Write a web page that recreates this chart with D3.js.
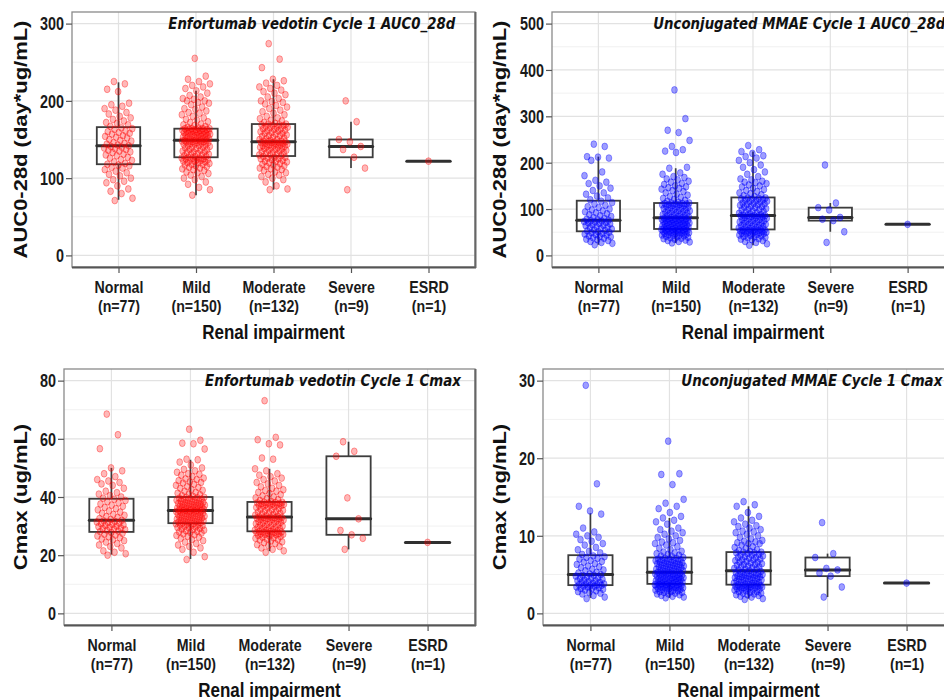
<!DOCTYPE html>
<html><head><meta charset="utf-8">
<script src="https://cdn.jsdelivr.net/npm/d3@7"></script>
<style>body{margin:0;background:#fff}svg{display:block;background:#fff}</style>
</head><body><svg id="c" width="944" height="700"></svg>
<script>
const categories = ["Normal", "Mild", "Moderate", "Severe", "ESRD"];
const nLabels = ["(n=77)", "(n=150)", "(n=132)", "(n=9)", "(n=1)"];
const xTitle = "Renal impairment";
const panelTitles = ["Enfortumab vedotin Cycle 1 AUC0_28d", "Unconjugated MMAE Cycle 1 AUC0_28d",
  "Enfortumab vedotin Cycle 1 Cmax", "Unconjugated MMAE Cycle 1 Cmax"];
const yTitles = ["AUC0-28d (day*ug/mL)", "AUC0-28d (day*ng/mL)", "Cmax (ug/mL)", "Cmax (ng/mL)"];

const ticksEvAuc = [0, 100, 200, 300], minorEvAuc = [50, 150, 250];
const ticksMmAuc = [0, 100, 200, 300, 400, 500], minorMmAuc = [50, 150, 250, 350, 450];
const ticksEvCmax = [0, 20, 40, 60, 80], minorEvCmax = [10, 30, 50, 70];
const ticksMmCmax = [0, 10, 20, 30], minorMmCmax = [5, 15, 25];

// ---- Enfortumab vedotin AUC0-28d ----
const evAucNormal = [71,74,80,83,86,90,94,96,98,100,103,105,107,109,111,113,114,116,117,
 118,119,121,123,124,126,127,129,130,131,133,134,135,136,137,138,139,140,141,142,
 143,144,145,146,148,149,150,152,153,154,155,157,158,159,160,161,163,164,165,
 167,169,171,172,174,176,178,180,183,185,188,190,193,195,197,212,215,222,225];
const evAucMild = [78,85,88,92,95,98,100,102,104,106,107,108,110,111,112,113,114,115,116,117,
 118,118,119,120,120,121,122,122,123,123,124,124,125,125,126,126,126,
 127,128,128,129,130,131,131,132,133,134,134,135,136,137,137,138,139,140,140,141,
 142,142,143,144,144,145,145,146,146,147,147,147,148,148,148,149,149,149,
 150,150,151,151,152,152,153,153,154,154,155,155,155,156,156,157,157,158,158,159,
 159,159,160,160,160,161,161,162,162,162,163,163,163,164,164,164,164,
 165,166,167,168,169,170,172,173,175,176,178,180,182,184,185,187,189,190,192,195,
 197,198,200,200,202,203,205,207,210,213,216,218,220,222,225,228,232,255];
const evAucModerate = [85,86,90,95,98,100,102,104,105,107,108,110,111,112,113,114,115,116,117,118,
 119,120,121,122,122,123,124,125,125,126,127,127,128,
 129,130,130,131,132,133,133,134,135,136,136,137,138,138,139,140,140,141,141,142,
 142,143,143,144,144,145,145,146,146,146,147,147,147,
 148,148,149,150,150,151,152,153,154,155,155,156,157,158,158,159,160,161,161,162,
 163,164,164,165,166,166,167,168,168,169,169,170,170,
 171,172,174,175,177,178,180,182,184,186,188,190,192,194,196,198,199,200,203,205,208,
 210,212,214,216,218,220,223,226,228,243,254,274];
const evAucSevere = [85,113,127,137,141,147,150,173,200];
const evAucEsrd = [122];
const evAucBox = [[118,142,166,72,224],[127,149,164,78,213],[128.6,147,170,85,228],[127,141,150,113,173],[122,122,122,122,122]];

// ---- Unconjugated MMAE AUC0-28d ----
const mmAucNormal = [23,26,28,30,32,34,35,37,38,40,41,42,44,45,46,47,49,50,51,
 53,54,55,57,58,60,61,62,64,65,66,68,69,70,71,72,73,74,75,76,
 77,78,80,82,84,86,88,90,92,94,96,98,100,103,105,108,111,114,117,
 120,124,128,132,135,140,145,150,155,158,162,172,180,205,210,212,213,235,240];
const mmAucMild = [27,29,30,32,33,35,36,37,38,39,40,41,42,43,44,44,45,46,47,47,
 48,49,49,50,51,51,52,52,53,53,54,54,55,55,56,56,56,
 57,58,58,59,60,60,61,62,62,63,64,64,65,66,66,67,68,68,69,70,
 70,71,72,72,73,74,74,75,76,76,77,77,78,78,79,79,80,80,
 81,82,83,84,85,86,87,88,89,90,91,92,93,94,95,96,97,98,99,100,
 101,102,103,104,105,106,107,108,109,110,110,111,111,112,112,113,113,
 115,117,119,121,123,125,127,130,132,135,138,140,143,145,146,148,150,153,155,158,160,163,
 165,168,170,175,178,188,190,222,225,228,235,248,265,270,295,357];
const mmAucModerate = [22,25,28,30,32,34,35,36,38,39,40,41,42,43,44,45,46,47,48,48,
 49,50,50,51,52,52,53,53,54,54,55,55,55,
 57,58,59,60,61,62,63,64,65,66,67,68,69,70,71,72,73,74,75,76,
 77,78,79,80,81,82,83,84,85,85,86,86,86,
 87,88,90,91,92,94,95,96,98,99,100,101,103,104,105,106,108,109,110,111,
 112,113,115,116,117,118,119,120,121,122,123,124,124,
 127,129,131,133,135,138,140,142,145,148,150,152,155,157,158,160,163,165,170,175,180,
 185,190,195,200,205,210,213,215,220,224,228,237];
const mmAucSevere = [28,51,75,78,82,98,103,113,195];
const mmAucEsrd = [67];
const mmAucBox = [[52,76,118,23,213],[57,81,113,27,188],[56,86,125,22,224],[75,82,103,51,113],[67,67,67,67,67]];

// ---- Enfortumab vedotin Cmax ----
const evCmaxNormal = [20.0,20.5,21.0,21.5,22.5,23.0,23.5,24.0,24.5,25.0,25.3,25.6,26.0,26.3,26.6,26.9,27.2,27.5,27.8,
 28.1,28.3,28.6,28.8,29.0,29.2,29.4,29.6,29.8,30.0,30.2,30.4,30.6,30.8,31.0,31.2,31.4,31.6,31.8,32.0,
 32.3,32.6,33.0,33.3,33.7,34.0,34.4,34.8,35.2,35.6,36.0,36.4,36.8,37.2,37.6,38.0,38.4,38.8,39.2,
 39.6,40.0,40.5,41.0,41.5,42.0,43.0,44.0,44.5,45.0,45.5,46.0,47.0,48.0,49.0,50.0,56.6,61.4,68.5];
const evCmaxMild = [18.5,19.5,21.0,22.0,22.5,23.0,23.5,24.0,24.5,25.0,25.4,25.8,26.2,26.5,26.8,27.0,27.3,27.6,27.8,28.0,
 28.2,28.4,28.6,28.8,29.0,29.2,29.4,29.5,29.7,29.9,30.1,30.2,30.4,30.5,30.7,30.8,30.9,
 31.1,31.2,31.3,31.4,31.5,31.6,31.8,31.9,32.0,32.1,32.3,32.4,32.5,32.6,32.8,32.9,33.0,33.2,33.3,33.4,
 33.5,33.7,33.8,33.9,34.0,34.2,34.3,34.4,34.5,34.7,34.8,34.9,35.0,35.1,35.2,35.3,35.3,35.4,
 35.5,35.6,35.7,35.8,35.9,36.0,36.1,36.2,36.4,36.5,36.6,36.7,36.8,37.0,37.1,37.2,37.3,37.5,37.6,37.7,
 37.8,38.0,38.1,38.2,38.4,38.5,38.6,38.8,38.9,39.0,39.2,39.3,39.4,39.6,39.7,39.8,39.9,
 40.2,40.5,40.8,41.0,41.3,41.6,42.0,42.3,42.6,43.0,43.3,43.6,44.0,44.4,44.8,45.0,45.2,45.6,46.0,46.2,
 46.5,47.0,47.5,47.8,48.0,48.5,49.0,49.5,50.0,51.0,52.0,52.8,53.0,56.5,58.3,58.5,59.5,63.3];
const evCmaxModerate = [21.0,21.5,22.0,22.5,23.0,23.3,23.6,24.0,24.3,24.6,24.9,25.2,25.4,25.6,25.8,26.0,26.2,26.4,26.6,26.8,
 27.0,27.1,27.2,27.3,27.4,27.5,27.6,27.7,27.8,27.9,28.0,28.1,28.1,
 28.3,28.5,28.6,28.8,29.0,29.1,29.3,29.5,29.6,29.8,30.0,30.1,30.3,30.5,30.6,30.8,31.0,31.1,31.3,31.5,
 31.6,31.8,32.0,32.1,32.3,32.4,32.5,32.6,32.7,32.8,32.9,33.0,33.1,
 33.2,33.4,33.6,33.8,34.0,34.2,34.4,34.6,34.8,35.0,35.2,35.4,35.6,35.8,36.0,36.2,36.4,36.6,36.8,37.0,
 37.1,37.2,37.3,37.4,37.5,37.6,37.7,37.8,37.9,38.0,38.1,38.2,38.2,
 38.5,38.8,39.1,39.4,39.7,40.0,40.4,40.8,41.2,41.6,42.0,42.2,42.5,43.0,43.5,44.0,44.5,45.0,45.5,46.0,
 46.5,47.0,47.5,48.0,49.0,49.7,53.0,53.4,57.9,58.3,59.7,60.5,73.1];
const evCmaxSevere = [22,25.8,27,28.5,32.5,39.7,54,55.7,59];
const evCmaxEsrd = [24.4];
const evCmaxBox = [[28,32,39.4,20.2,50],[31,35.4,40,18.7,52.8],[28.2,33.1,38.3,21.4,49.7],[27,32.5,54,22,59],[24.4,24.4,24.4,24.4,24.4]];

// ---- Unconjugated MMAE Cmax ----
const mmCmaxNormal = [1.9,2.1,2.3,2.5,2.6,2.7,2.8,2.9,3.0,3.1,3.2,3.2,3.3,3.4,3.4,3.5,3.5,3.6,3.6,
 3.7,3.7,3.8,3.8,3.9,4.0,4.0,4.1,4.2,4.2,4.3,4.4,4.5,4.5,4.6,4.7,4.8,4.9,4.9,5.0,
 5.1,5.2,5.3,5.5,5.6,5.7,5.9,6.0,6.1,6.3,6.4,6.6,6.7,6.8,7.0,7.1,7.2,7.3,7.4,
 7.6,7.8,8.0,8.2,8.5,8.8,9.0,9.3,9.5,9.8,10.0,10.2,10.5,11.0,12.8,13.2,13.8,16.7,29.4];
const mmCmaxMild = [2.0,2.1,2.2,2.3,2.4,2.5,2.5,2.6,2.7,2.7,2.8,2.8,2.9,2.9,3.0,3.0,3.1,3.1,3.2,3.2,
 3.3,3.3,3.3,3.4,3.4,3.4,3.5,3.5,3.5,3.6,3.6,3.6,3.7,3.7,3.7,3.7,3.8,
 3.8,3.9,3.9,3.9,4.0,4.0,4.0,4.1,4.1,4.2,4.2,4.2,4.3,4.3,4.4,4.4,4.4,4.5,4.5,4.6,
 4.6,4.7,4.7,4.8,4.8,4.8,4.9,4.9,5.0,5.0,5.0,5.1,5.1,5.1,5.2,5.2,5.3,5.3,
 5.4,5.4,5.5,5.5,5.6,5.6,5.7,5.7,5.8,5.8,5.9,5.9,6.0,6.0,6.1,6.1,6.2,6.2,6.3,6.3,
 6.4,6.4,6.5,6.5,6.6,6.6,6.7,6.7,6.8,6.8,6.9,6.9,7.0,7.0,7.1,7.1,7.2,
 7.3,7.4,7.5,7.6,7.7,7.8,7.9,8.0,8.2,8.4,8.6,8.8,9.0,9.1,9.2,9.4,9.6,9.8,10.0,10.2,
 10.4,10.6,10.8,11.0,11.5,11.8,12.0,12.3,12.5,13.0,13.5,13.8,14.2,14.7,16.6,17.9,18.0,22.2];
const mmCmaxModerate = [1.8,1.9,2.1,2.2,2.3,2.4,2.4,2.5,2.6,2.6,2.7,2.8,2.8,2.9,3.0,3.0,3.1,3.1,3.2,3.2,
 3.3,3.3,3.4,3.4,3.4,3.5,3.5,3.5,3.6,3.6,3.6,3.7,3.7,
 3.8,3.8,3.9,3.9,4.0,4.0,4.1,4.2,4.2,4.3,4.3,4.4,4.4,4.5,4.5,4.6,4.6,4.7,4.7,4.8,
 4.8,4.9,4.9,5.0,5.0,5.1,5.1,5.2,5.2,5.3,5.3,5.4,5.5,
 5.6,5.7,5.7,5.8,5.9,6.0,6.0,6.1,6.2,6.3,6.3,6.4,6.5,6.6,6.6,6.7,6.8,6.9,6.9,7.0,
 7.1,7.2,7.2,7.3,7.4,7.5,7.5,7.6,7.7,7.8,7.8,7.9,7.9,
 8.0,8.1,8.2,8.4,8.5,8.6,8.8,9.0,9.0,9.1,9.2,9.3,9.4,9.6,9.8,10.0,10.2,10.4,10.5,10.6,
 10.8,11.0,11.2,11.3,11.5,11.8,12.0,12.3,12.5,13.0,13.8,14.0,14.4];
const mmCmaxSevere = [2.1,3.4,4.8,5.2,5.6,5.8,7.2,7.7,11.7];
const mmCmaxEsrd = [3.9];
const mmCmaxBox = [[3.64,5.0,7.5,2.0,12.9],[3.8,5.3,7.2,2.0,12.3],[3.7,5.5,7.9,1.9,13.8],[4.8,5.6,7.2,2.1,7.7],[3.9,3.9,3.9,3.9,3.9]];

const RED = "#ff0000", BLUE = "#0000ff";
const panels = [
  {x0:72, x1:475, y0:12, y1:267, domain:[-15,315], ticks:ticksEvAuc, minor:minorEvAuc, color:RED,
   groups:[evAucNormal,evAucMild,evAucModerate,evAucSevere,evAucEsrd], box:evAucBox,
   title:panelTitles[0], tx:168.3, tlen:287, ytitle:yTitles[0], ytx:26.5},
  {x0:552, x1:954, y0:12, y1:267, domain:[-25,525], ticks:ticksMmAuc, minor:minorMmAuc, color:BLUE,
   groups:[mmAucNormal,mmAucMild,mmAucModerate,mmAucSevere,mmAucEsrd], box:mmAucBox,
   title:panelTitles[1], tx:653.3, tlen:292, ytitle:yTitles[1], ytx:506},
  {x0:64, x1:475, y0:369, y1:625, domain:[-4,84], ticks:ticksEvCmax, minor:minorEvCmax, color:RED,
   groups:[evCmaxNormal,evCmaxMild,evCmaxModerate,evCmaxSevere,evCmaxEsrd], box:evCmaxBox,
   title:panelTitles[2], tx:205, tlen:256, ytitle:yTitles[2], ytx:26.5},
  {x0:543, x1:954, y0:369, y1:625, domain:[-1.5,31.5], ticks:ticksMmCmax, minor:minorMmCmax, color:BLUE,
   groups:[mmCmaxNormal,mmCmaxMild,mmCmaxModerate,mmCmaxSevere,mmCmaxEsrd], box:mmCmaxBox,
   title:panelTitles[3], tx:681.3, tlen:261, ytitle:yTitles[3], ytx:506}
];

const svg = d3.select("#c");
const SY = 1.22;
const SANS = "'Liberation Sans', Arial, sans-serif";

panels.forEach(p => {
  const x = d3.scalePoint().domain(categories).range([p.x0, p.x1]).padding(0.6);
  const y = d3.scaleLinear().domain(p.domain).range([p.y1, p.y0]);
  const step = x.step();
  const g = svg.append("g");

  g.append("rect").attr("x", p.x0).attr("y", p.y0).attr("width", p.x1 - p.x0).attr("height", p.y1 - p.y0).attr("fill", "#fff");
  g.selectAll(".mn").data(p.minor).join("line")
    .attr("x1", p.x0).attr("x2", p.x1).attr("y1", d => y(d)).attr("y2", d => y(d))
    .attr("stroke", "#f1f1f1").attr("stroke-width", 1);
  g.selectAll(".mj").data(p.ticks).join("line")
    .attr("x1", p.x0).attr("x2", p.x1).attr("y1", d => y(d)).attr("y2", d => y(d))
    .attr("stroke", "#e2e2e2").attr("stroke-width", 1.2);
  g.selectAll(".vg").data(categories).join("line")
    .attr("x1", d => x(d)).attr("x2", d => x(d)).attr("y1", p.y0).attr("y2", p.y1)
    .attr("stroke", "#e2e2e2").attr("stroke-width", 1.2);

  // boxes
  const hw = step * 0.28;
  p.box.forEach((b, i) => {
    const cx = x(categories[i]);
    const [q1, med, q3, lo, hi] = b;
    g.append("line").attr("x1", cx).attr("x2", cx).attr("y1", y(q3)).attr("y2", y(hi)).attr("stroke", "#3d3d3d").attr("stroke-width", 1.7);
    g.append("line").attr("x1", cx).attr("x2", cx).attr("y1", y(q1)).attr("y2", y(lo)).attr("stroke", "#3d3d3d").attr("stroke-width", 1.7);
    if (q3 > q1) {
      g.append("rect").attr("x", cx - hw).attr("y", y(q3)).attr("width", 2 * hw).attr("height", y(q1) - y(q3))
        .attr("fill", "#fff").attr("stroke", "#3d3d3d").attr("stroke-width", 1.8);
    }
    g.append("line").attr("x1", cx - hw).attr("x2", cx + hw).attr("y1", y(med)).attr("y2", y(med))
      .attr("stroke", "#303030").attr("stroke-width", 3).attr("stroke-linecap", "round");
  });

  // jittered points
  p.groups.forEach((vals, i) => {
    const cx = x(categories[i]);
    g.append("g").selectAll("ellipse").data(vals).join("ellipse")
      .attr("cx", (d, j) => vals.length === 1 ? cx : cx + (((j * 0.618034 + 0.37) % 1) - 0.5) * 2 * 0.185 * step)
      .attr("cy", d => y(d)).attr("rx", 2.9).attr("ry", 3.4)
      .attr("fill", p.color).attr("fill-opacity", p.color === RED ? 0.28 : 0.38)
      .attr("stroke", p.color).attr("stroke-opacity", 0.45).attr("stroke-width", 0.8);
  });

  // border
  g.append("rect").attr("x", p.x0).attr("y", p.y0).attr("width", p.x1 - p.x0).attr("height", p.y1 - p.y0)
    .attr("fill", "none").attr("stroke", "#8a8a8a").attr("stroke-width", 1.3);
  g.append("line").attr("x1", p.x0).attr("x2", p.x1 + 1).attr("y1", p.y1 + 0.5).attr("y2", p.y1 + 0.5).attr("stroke", "#555").attr("stroke-width", 2.2);
  g.append("line").attr("x1", p.x1 + 0.5).attr("x2", p.x1 + 0.5).attr("y1", p.y0).attr("y2", p.y1 + 1).attr("stroke", "#666").attr("stroke-width", 2);

  // y axis
  const ya = g.append("g").attr("transform", `translate(${p.x0},0)`)
    .call(d3.axisLeft(y).tickValues(p.ticks).tickSize(6).tickPadding(2).tickFormat(d3.format("d")));
  ya.select(".domain").remove();
  ya.selectAll(".tick line").attr("stroke", "#555").attr("stroke-width", 1.2);
  ya.selectAll(".tick text").attr("font-family", SANS).attr("font-weight", "bold").attr("font-size", 14.4)
    .attr("fill", "#1a1a1a").attr("dy", "0.36em").attr("transform", `scale(1,${SY})`);

  // x axis
  const xa = g.append("g").attr("transform", `translate(0,${p.y1 + 1})`)
    .call(d3.axisBottom(x).tickSize(5).tickFormat(""));
  xa.select(".domain").remove();
  xa.selectAll(".tick line").attr("stroke", "#555").attr("stroke-width", 1.2);
  xa.selectAll(".tick text").remove();
  xa.selectAll(".tick").each(function(d, i) {
    const t = d3.select(this);
    [[d, 25], [nLabels[i], 43.5]].forEach(([s, dy]) => {
      t.append("text").text(s).attr("text-anchor", "middle")
        .attr("font-family", SANS).attr("font-weight", "bold").attr("font-size", 14.2).attr("fill", "#1a1a1a")
        .attr("transform", `translate(0,${dy}) scale(1,${SY})`);
    });
  });

  // axis titles
  g.append("text").text(xTitle).attr("text-anchor", "middle")
    .attr("font-family", SANS).attr("font-weight", "bold").attr("font-size", 17).attr("fill", "#111")
    .attr("transform", `translate(${(p.x0 + p.x1) / 2},${p.y1 + 72}) scale(1,1.2)`);
  g.append("text").text(p.ytitle).attr("text-anchor", "middle")
    .attr("font-family", SANS).attr("font-weight", "bold").attr("font-size", 18).attr("fill", "#111")
    .attr("transform", `translate(${p.ytx},${(p.y0 + p.y1) / 2}) rotate(-90) scale(${SY},1)`);

  // panel title
  g.append("text").text(p.title)
    .attr("font-family", "'DejaVu Sans', sans-serif").attr("font-weight", "bold").attr("font-style", "italic")
    .attr("font-size", 13.5).attr("fill", "#111")
    .attr("textLength", p.tlen).attr("lengthAdjust", "spacingAndGlyphs")
    .attr("transform", `translate(${p.tx},${p.y0 + 16.5}) scale(1,${SY})`);
});
</script></body></html>
